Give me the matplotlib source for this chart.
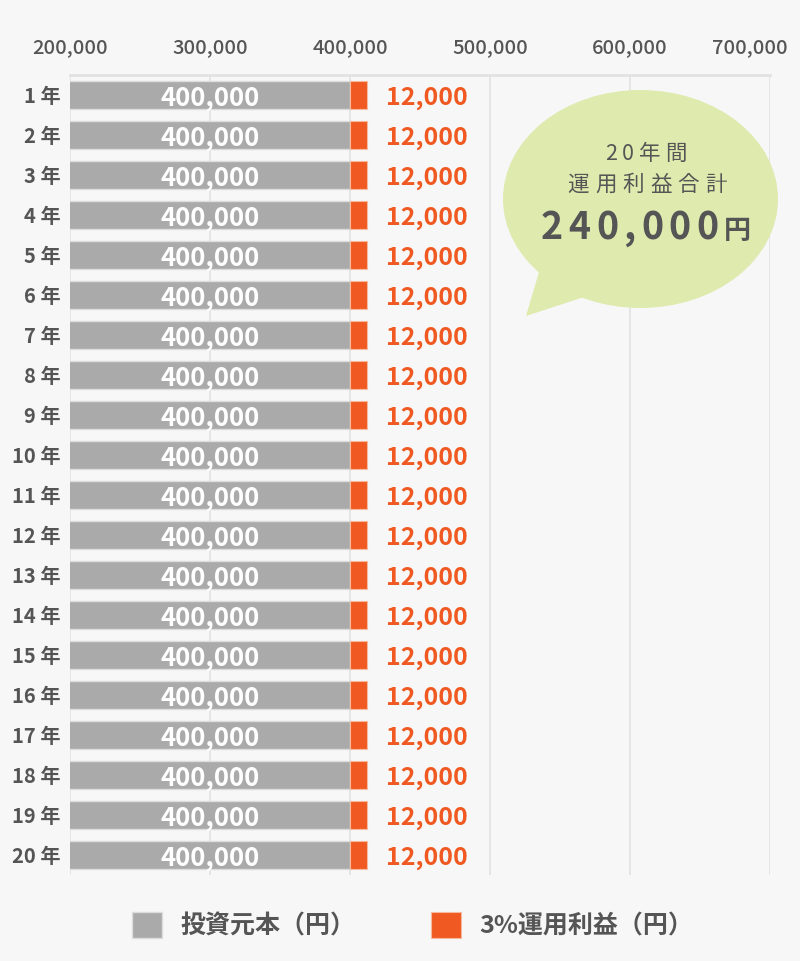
import numpy as np
import matplotlib
matplotlib.use("Agg")
import matplotlib.pyplot as plt
import matplotlib.transforms as mtransforms
from matplotlib.patches import Ellipse, Polygon

plt.rcParams['font.family'] = ['Noto Sans CJK JP', 'DejaVu Sans']

# データ
years = [f"{i} 年" for i in range(1, 21)]
principal = [400000] * 20
profit = [12000] * 20
x_ticks = [200000, 300000, 400000, 500000, 600000, 700000]
total_profit = "240,000"
legend_labels = ["投資元本（円）", "3%運用利益（円）"]

W, H = 800, 961
BG = '#f7f7f7'
GRAY = '#aaaaaa'
ORANGE = '#f05a22'
TEXT = '#555555'
BUBBLE = '#dfeaae'


def px(x, y):
    return x / W, 1 - y / H


def spaced_text(fig, parts, cx, cy, track, **kw):
    # 文字間隔をあけて文字を1つずつ置く
    renderer = fig.canvas.get_renderer()
    items = []
    for s, size in parts:
        for ch in s:
            t = fig.text(0, 0, ch, fontsize=size, **kw)
            w = t.get_window_extent(renderer).width
            t.remove()
            items.append((ch, size, w))
    total = sum(w for _, _, w in items) + track * (len(items) - 1)
    x = cx - total / 2
    for ch, size, w in items:
        fig.text(*px(x, cy), ch, fontsize=size, ha='left', va='baseline', **kw)
        x += w + track


def main():
    fig = plt.figure(figsize=(W / 100, H / 100), dpi=100, facecolor=BG)
    ax = fig.add_axes([70 / W, 1 - 875 / H, 700 / W, 800 / H], facecolor=BG)

    y = np.arange(len(years))
    ax.barh(y, principal, height=0.72, color=GRAY, edgecolor='#dcdcdc', linewidth=1, zorder=3)
    ax.barh(y, profit, left=principal, height=0.72, color=ORANGE, edgecolor='#f6b9a0',
            linewidth=0.8, zorder=3)

    for i in range(len(years)):
        ax.annotate(f"{principal[i]:,}", ((x_ticks[0] + principal[i]) / 2, y[i]),
                    xytext=(0, -2), textcoords='offset points', color='white',
                    fontsize=18.5, fontweight='bold', ha='center', va='center', zorder=4)
        ax.annotate(f"{profit[i]:,}", (principal[i] + profit[i], y[i]), xytext=(13.5, -2),
                    textcoords='offset points', color=ORANGE, fontsize=18,
                    fontweight='bold', ha='left', va='center', zorder=4)

    ax.set_xlim(x_ticks[0], x_ticks[-1])
    ax.set_ylim(len(years) - 0.5, -0.5)
    ax.set_xticks(x_ticks)
    ax.set_xticklabels([f"{v:,}" for v in x_ticks])
    ax.set_yticks(y)
    ax.set_yticklabels(years)
    ax.xaxis.tick_top()
    ax.tick_params(axis='x', length=0, pad=13, labelsize=14.5, labelcolor=TEXT)
    ax.tick_params(axis='y', length=0, pad=7, labelsize=14.5, labelcolor=TEXT)
    for lab in ax.get_yticklabels():
        lab.set_fontweight('bold')
    for lab in ax.get_xticklabels():
        lab.set_fontweight('medium')
    # 右端のラベルは図の内側に寄せる
    last = ax.get_xticklabels()[-1]
    last.set_transform(last.get_transform() +
                       mtransforms.ScaledTranslation(-20 / 100, 0, fig.dpi_scale_trans))

    ax.grid(axis='x', color='#e2e2e2', linewidth=1.2, zorder=0)
    for side in ['left', 'right', 'bottom']:
        ax.spines[side].set_visible(False)
    ax.spines['top'].set_color('#e2e2e2')
    ax.spines['top'].set_linewidth(2)

    # 吹き出し
    bubble = Ellipse(px(640.5, 199), 275 / W, 218 / H, transform=fig.transFigure,
                     facecolor=BUBBLE, edgecolor='none', zorder=5)
    tail = Polygon([px(539, 272), px(526, 316), px(584, 297)], closed=True,
                   transform=fig.transFigure, facecolor=BUBBLE, edgecolor='none', zorder=5)
    fig.patches.extend([bubble, tail])

    spaced_text(fig, [("20年間", 15.5)], 646, 160, 5, color=TEXT, zorder=6)
    spaced_text(fig, [("運用利益合計", 15.5)], 647, 191, 6, color=TEXT, zorder=6)
    spaced_text(fig, [(total_profit, 27), ("円", 19.5)], 646, 239, 5.5, color=TEXT,
                fontweight='bold', zorder=6)

    # 凡例
    fig.legend(ax.containers[0:2], legend_labels, loc='center', bbox_to_anchor=px(412.5, 925),
               ncol=2, frameon=False, handlelength=1.2, handleheight=1.25, handletextpad=0.76,
               columnspacing=3.0, prop={'size': 18, 'weight': 'bold'}, labelcolor=TEXT)

    fig.savefig("out.png", dpi=100, facecolor=BG)


if __name__ == "__main__":
    main()
